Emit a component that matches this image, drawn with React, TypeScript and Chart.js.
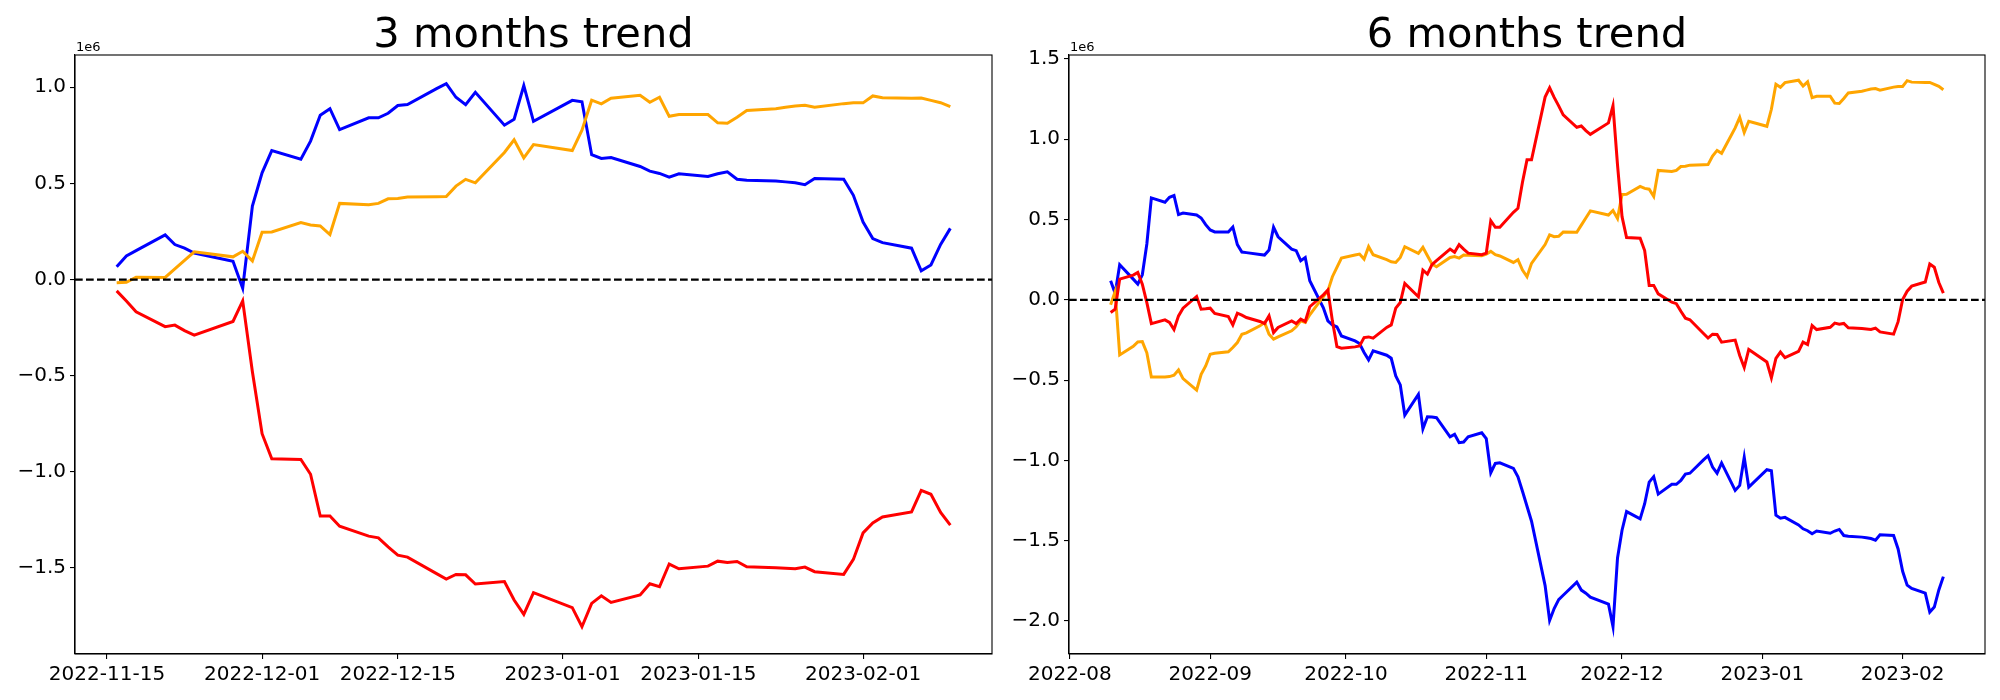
import React, { useEffect, useRef } from "react";
import { Chart, registerables } from "chart.js";

Chart.register(...registerables);

// ---------- 3 months trend (values in units of 1e6) ----------
const dates3m = [
  "2022-11-16","2022-11-17","2022-11-18","2022-11-21","2022-11-22","2022-11-23","2022-11-24","2022-11-28","2022-11-29","2022-11-30",
  "2022-12-01","2022-12-02","2022-12-05","2022-12-06","2022-12-07","2022-12-08","2022-12-09","2022-12-12","2022-12-13","2022-12-14","2022-12-15","2022-12-16","2022-12-19","2022-12-20","2022-12-21","2022-12-22","2022-12-23","2022-12-26","2022-12-27","2022-12-28","2022-12-29",
  "2023-01-02","2023-01-03","2023-01-04","2023-01-05","2023-01-06","2023-01-09","2023-01-10","2023-01-11","2023-01-12","2023-01-13","2023-01-16","2023-01-17","2023-01-18","2023-01-19","2023-01-20","2023-01-23","2023-01-24","2023-01-25","2023-01-26","2023-01-27","2023-01-30","2023-01-31",
  "2023-02-01","2023-02-02","2023-02-03","2023-02-06","2023-02-07","2023-02-08","2023-02-09","2023-02-10",
];
const blue3m = [
  0.067,0.123,0.150,0.232,0.182,0.163,0.138,0.095,-0.045,0.382,
  0.555,0.671,0.626,0.720,0.855,0.889,0.780,0.841,0.841,0.865,0.905,0.910,0.993,1.019,0.948,0.910,0.974,0.803,0.834,1.009,0.823,
  0.932,0.925,0.649,0.630,0.635,0.588,0.564,0.552,0.533,0.550,0.536,0.550,0.560,0.522,0.517,0.512,0.508,0.503,0.493,0.526,0.522,0.438,
  0.299,0.213,0.192,0.163,0.045,0.076,0.183,0.266,
];
const orange3m = [
  -0.017,-0.014,0.012,0.011,0.055,0.100,0.144,0.118,0.147,0.097,
  0.246,0.247,0.296,0.284,0.279,0.234,0.396,0.389,0.396,0.420,0.422,0.429,0.431,0.432,0.486,0.521,0.503,0.661,0.727,0.633,0.702,
  0.671,0.777,0.933,0.914,0.943,0.958,0.922,0.948,0.849,0.858,0.858,0.815,0.813,0.844,0.879,0.889,0.896,0.903,0.906,0.896,0.915,0.919,
  0.919,0.955,0.946,0.943,0.944,0.932,0.920,0.899,
];
const red3m = [
  -0.059,-0.112,-0.168,-0.245,-0.237,-0.266,-0.289,-0.218,-0.111,-0.480,
  -0.802,-0.932,-0.936,-1.013,-1.230,-1.230,-1.283,-1.335,-1.344,-1.391,-1.434,-1.444,-1.530,-1.558,-1.534,-1.536,-1.584,-1.571,-1.667,-1.742,-1.629,
  -1.707,-1.806,-1.685,-1.645,-1.680,-1.641,-1.583,-1.598,-1.480,-1.505,-1.491,-1.465,-1.472,-1.467,-1.494,-1.499,-1.502,-1.505,-1.496,-1.520,-1.534,-1.456,
  -1.318,-1.266,-1.235,-1.209,-1.097,-1.117,-1.212,-1.278,
];

// ---------- 6 months trend (values in units of 1e6) ----------
const dates6mEarly = [
  "2022-08-10","2022-08-11","2022-08-12","2022-08-15","2022-08-16","2022-08-17","2022-08-18","2022-08-19","2022-08-22","2022-08-23","2022-08-24","2022-08-25","2022-08-26","2022-08-29","2022-08-30","2022-08-31",
  "2022-09-01","2022-09-02","2022-09-05","2022-09-06","2022-09-07","2022-09-08","2022-09-09","2022-09-12","2022-09-13","2022-09-14","2022-09-15","2022-09-16","2022-09-19","2022-09-20","2022-09-21","2022-09-22","2022-09-23","2022-09-26","2022-09-27","2022-09-28","2022-09-29","2022-09-30",
  "2022-10-03","2022-10-04","2022-10-05","2022-10-06","2022-10-07","2022-10-10","2022-10-11","2022-10-12","2022-10-13","2022-10-14","2022-10-17","2022-10-18","2022-10-19","2022-10-20","2022-10-21","2022-10-24","2022-10-25","2022-10-26","2022-10-27","2022-10-28","2022-10-31",
  "2022-11-01","2022-11-02","2022-11-03","2022-11-04","2022-11-07","2022-11-08","2022-11-09","2022-11-10","2022-11-11","2022-11-14","2022-11-15",
];
const dates6m = [...dates6mEarly, ...dates3m];
const blue6m = [
  0.119,0.040,0.219,0.129,0.098,0.156,0.348,0.635,0.608,0.639,0.650,0.531,0.541,0.529,0.510,0.468,
  0.435,0.423,0.423,0.454,0.344,0.298,0.294,0.283,0.279,0.310,0.452,0.393,0.316,0.306,0.244,0.264,0.119,-0.050,-0.131,-0.156,-0.168,-0.225,
  -0.256,-0.272,-0.328,-0.374,-0.318,-0.345,-0.364,-0.474,-0.530,-0.718,-0.589,-0.803,-0.728,-0.730,-0.734,-0.853,-0.838,-0.890,-0.886,-0.853,-0.828,
  -0.865,-1.077,-1.019,-1.015,-1.050,-1.103,-1.192,-1.286,-1.379,-1.780,-1.997,
  -1.923,-1.867,-1.840,-1.758,-1.808,-1.827,-1.852,-1.895,-2.035,-1.608,
  -1.435,-1.319,-1.364,-1.270,-1.135,-1.101,-1.210,-1.149,-1.149,-1.125,-1.085,-1.080,-0.997,-0.971,-1.042,-1.080,-1.016,-1.187,-1.156,-0.981,-1.167,
  -1.058,-1.065,-1.341,-1.360,-1.355,-1.402,-1.426,-1.438,-1.457,-1.440,-1.454,-1.440,-1.430,-1.468,-1.473,-1.478,-1.482,-1.487,-1.497,-1.464,-1.468,-1.552,
  -1.691,-1.777,-1.798,-1.827,-1.945,-1.914,-1.807,-1.724,
];
const orange6m = [
  -0.031,0.052,-0.343,-0.290,-0.262,-0.260,-0.330,-0.481,-0.481,-0.478,-0.470,-0.437,-0.491,-0.562,-0.464,-0.412,
  -0.339,-0.333,-0.324,-0.297,-0.266,-0.214,-0.206,-0.162,-0.141,-0.214,-0.245,-0.231,-0.193,-0.168,-0.131,-0.141,-0.093,0.020,0.056,0.144,0.202,0.260,
  0.279,0.285,0.254,0.331,0.281,0.250,0.237,0.233,0.264,0.331,0.289,0.327,0.275,0.223,0.206,0.264,0.270,0.260,0.279,0.277,0.275,
  0.285,0.302,0.281,0.273,0.233,0.250,0.185,0.144,0.227,0.344,0.404,
  0.393,0.396,0.422,0.421,0.465,0.510,0.554,0.528,0.557,0.507,
  0.656,0.657,0.706,0.694,0.689,0.644,0.806,0.799,0.806,0.830,0.832,0.839,0.841,0.842,0.896,0.931,0.913,1.071,1.137,1.043,1.112,
  1.081,1.187,1.343,1.324,1.353,1.368,1.332,1.358,1.259,1.268,1.268,1.225,1.223,1.254,1.289,1.299,1.306,1.313,1.316,1.306,1.325,1.329,
  1.329,1.365,1.356,1.353,1.354,1.342,1.330,1.309,
];
const red6m = [
  -0.079,-0.058,0.129,0.154,0.171,0.098,-0.017,-0.148,-0.125,-0.141,-0.185,-0.100,-0.052,0.021,-0.058,-0.056,
  -0.052,-0.085,-0.104,-0.156,-0.083,-0.095,-0.110,-0.135,-0.148,-0.100,-0.204,-0.172,-0.131,-0.148,-0.120,-0.135,-0.043,0.031,0.061,-0.131,-0.291,-0.301,
  -0.293,-0.287,-0.235,-0.231,-0.239,-0.172,-0.156,-0.052,-0.017,0.102,0.019,0.185,0.160,0.219,0.244,0.316,0.296,0.344,0.316,0.291,0.281,
  0.291,0.493,0.452,0.452,0.545,0.570,0.733,0.872,0.872,1.263,1.321,
  1.261,1.208,1.152,1.075,1.083,1.054,1.031,1.102,1.209,0.840,
  0.518,0.388,0.384,0.307,0.090,0.090,0.037,-0.015,-0.024,-0.071,-0.114,-0.124,-0.210,-0.238,-0.214,-0.216,-0.264,-0.251,-0.347,-0.422,-0.309,
  -0.387,-0.486,-0.365,-0.325,-0.360,-0.321,-0.263,-0.278,-0.160,-0.185,-0.171,-0.145,-0.152,-0.147,-0.174,-0.179,-0.182,-0.185,-0.176,-0.200,-0.214,-0.136,
  0.002,0.054,0.085,0.111,0.223,0.203,0.108,0.042,
];

// ---------- ticks ----------
const xTicks3m = ["2022-11-15","2022-12-01","2022-12-15","2023-01-01","2023-01-15","2023-02-01"];
const xLabels3m = ["2022-11-15","2022-12-01","2022-12-15","2023-01-01","2023-01-15","2023-02-01"];
const yTicks3m = [-1.5, -1.0, -0.5, 0.0, 0.5, 1.0];
const xTicks6m = ["2022-08-01","2022-09-01","2022-10-01","2022-11-01","2022-12-01","2023-01-01","2023-02-01"];
const xLabels6m = ["2022-08","2022-09","2022-10","2022-11","2022-12","2023-01","2023-02"];
const yTicks6m = [-2.0, -1.5, -1.0, -0.5, 0.0, 0.5, 1.0, 1.5];

const BLUE = "#0000ff";
const ORANGE = "#ffa500";
const RED = "#ff0000";
const FONT = "DejaVu Sans";

const dayNum = (s: string) =>
  Date.UTC(+s.slice(0, 4), +s.slice(5, 7) - 1, +s.slice(8, 10)) / 86400000;

type PanelProps = {
  left: number;
  title: string;
  dates: string[];
  series: { values: number[]; color: string }[];
  xTicks: string[];
  xLabels: string[];
  yTicks: number[];
  yMin: number;
  yMax: number;
  area: { left: number; right: number; top: number; bottom: number };
};

const W = 1000;
const H = 700;

function Panel(p: PanelProps) {
  const ref = useRef<HTMLCanvasElement | null>(null);
  useEffect(() => {
    if (!ref.current) return;
    const xs = p.dates.map(dayNum);
    const first = xs[0];
    const last = xs[xs.length - 1];
    const margin = (last - first) * 0.05;
    const overlay = {
      id: "overlay",
      afterDatasetsDraw(chart: any) {
        const { ctx, chartArea: a, scales } = chart;
        const y0 = scales.y.getPixelForValue(0);
        ctx.save();
        ctx.beginPath();
        ctx.setLineDash([7.7, 3.3]);
        ctx.lineWidth = 2.2;
        ctx.strokeStyle = "#000";
        ctx.moveTo(a.left, y0);
        ctx.lineTo(a.right, y0);
        ctx.stroke();
        ctx.restore();
      },
      afterDraw(chart: any) {
        const { ctx, chartArea: a } = chart;
        ctx.save();
        ctx.lineWidth = 1.1;
        ctx.strokeStyle = "#000";
        ctx.strokeRect(a.left, a.top, a.right - a.left, a.bottom - a.top);
        ctx.fillStyle = "#000";
        ctx.font = `41.6px "${FONT}"`;
        ctx.textAlign = "center";
        ctx.textBaseline = "alphabetic";
        ctx.fillText(p.title, (a.left + a.right) / 2, a.top - 8.3);
        ctx.font = `13px "${FONT}"`;
        ctx.textAlign = "left";
        ctx.fillText("1e6", a.left + 1, a.top - 4.5);
        ctx.restore();
      },
    };
    const chart = new Chart(ref.current, {
      type: "line",
      data: {
        datasets: p.series.map((s) => ({
          data: p.dates.map((d, i) => ({ x: dayNum(d), y: s.values[i] })),
          borderColor: s.color,
          backgroundColor: s.color,
          borderWidth: 3,
          pointRadius: 0,
          tension: 0,
          fill: false,
        })),
      },
      options: {
        animation: false,
        responsive: false,
        devicePixelRatio: 1,
        layout: {
          padding: { left: 0, top: p.area.top, right: W - p.area.right, bottom: 0 },
        },
        plugins: {
          legend: { display: false },
          tooltip: { enabled: false },
          title: { display: false },
        },
        scales: {
          x: {
            type: "linear",
            min: first - margin,
            max: last + margin,
            afterBuildTicks: (sc: any) => {
              sc.ticks = p.xTicks.map((t) => ({ value: dayNum(t) }));
            },
            afterFit: (sc: any) => {
              sc.height = H - p.area.bottom;
            },
            ticks: {
              autoSkip: false,
              maxRotation: 0,
              minRotation: 0,
              padding: 4,
              color: "#000",
              font: { size: 20, family: FONT },
              callback: (_v: any, i: number) => p.xLabels[i] ?? "",
            },
            grid: {
              drawOnChartArea: false,
              drawTicks: true,
              tickLength: 5,
              color: "#000",
              lineWidth: 1.1,
            },
            border: { display: true, color: "#000", width: 1.1 },
          },
          y: {
            type: "linear",
            min: p.yMin,
            max: p.yMax,
            afterBuildTicks: (sc: any) => {
              sc.ticks = p.yTicks.map((v) => ({ value: v }));
            },
            afterFit: (sc: any) => {
              sc.width = p.area.left;
            },
            ticks: {
              padding: 4,
              color: "#000",
              font: { size: 20, family: FONT },
              callback: (v: any) => Number(v).toFixed(1).replace("-", "\u2212"),
            },
            grid: {
              drawOnChartArea: false,
              drawTicks: true,
              tickLength: 5,
              color: "#000",
              lineWidth: 1.1,
            },
            border: { display: true, color: "#000", width: 1.1 },
          },
        },
      },
      plugins: [overlay],
    } as any);
    return () => chart.destroy();
  }, []);
  return (
    <canvas
      ref={ref}
      width={W}
      height={H}
      style={{ position: "absolute", left: p.left, top: 0, width: W, height: H }}
    />
  );
}

export default function App() {
  return (
    <div
      style={{
        position: "absolute",
        left: 0,
        top: 0,
        width: 2000,
        height: 700,
        background: "#fff",
        overflow: "hidden",
      }}
    >
      <Panel
        left={0}
        title="3 months trend"
        dates={dates3m}
        series={[
          { values: red3m, color: RED },
          { values: orange3m, color: ORANGE },
          { values: blue3m, color: BLUE },
        ]}
        xTicks={xTicks3m}
        xLabels={xLabels3m}
        yTicks={yTicks3m}
        yMin={-1.948}
        yMax={1.168}
        area={{ left: 75, right: 992, top: 55, bottom: 654 }}
      />
      <Panel
        left={1000}
        title="6 months trend"
        dates={dates6m}
        series={[
          { values: red6m, color: RED },
          { values: orange6m, color: ORANGE },
          { values: blue6m, color: BLUE },
        ]}
        xTicks={xTicks6m}
        xLabels={xLabels6m}
        yTicks={yTicks6m}
        yMin={-2.206}
        yMax={1.525}
        area={{ left: 69, right: 985, top: 55, bottom: 654 }}
      />
    </div>
  );
}
